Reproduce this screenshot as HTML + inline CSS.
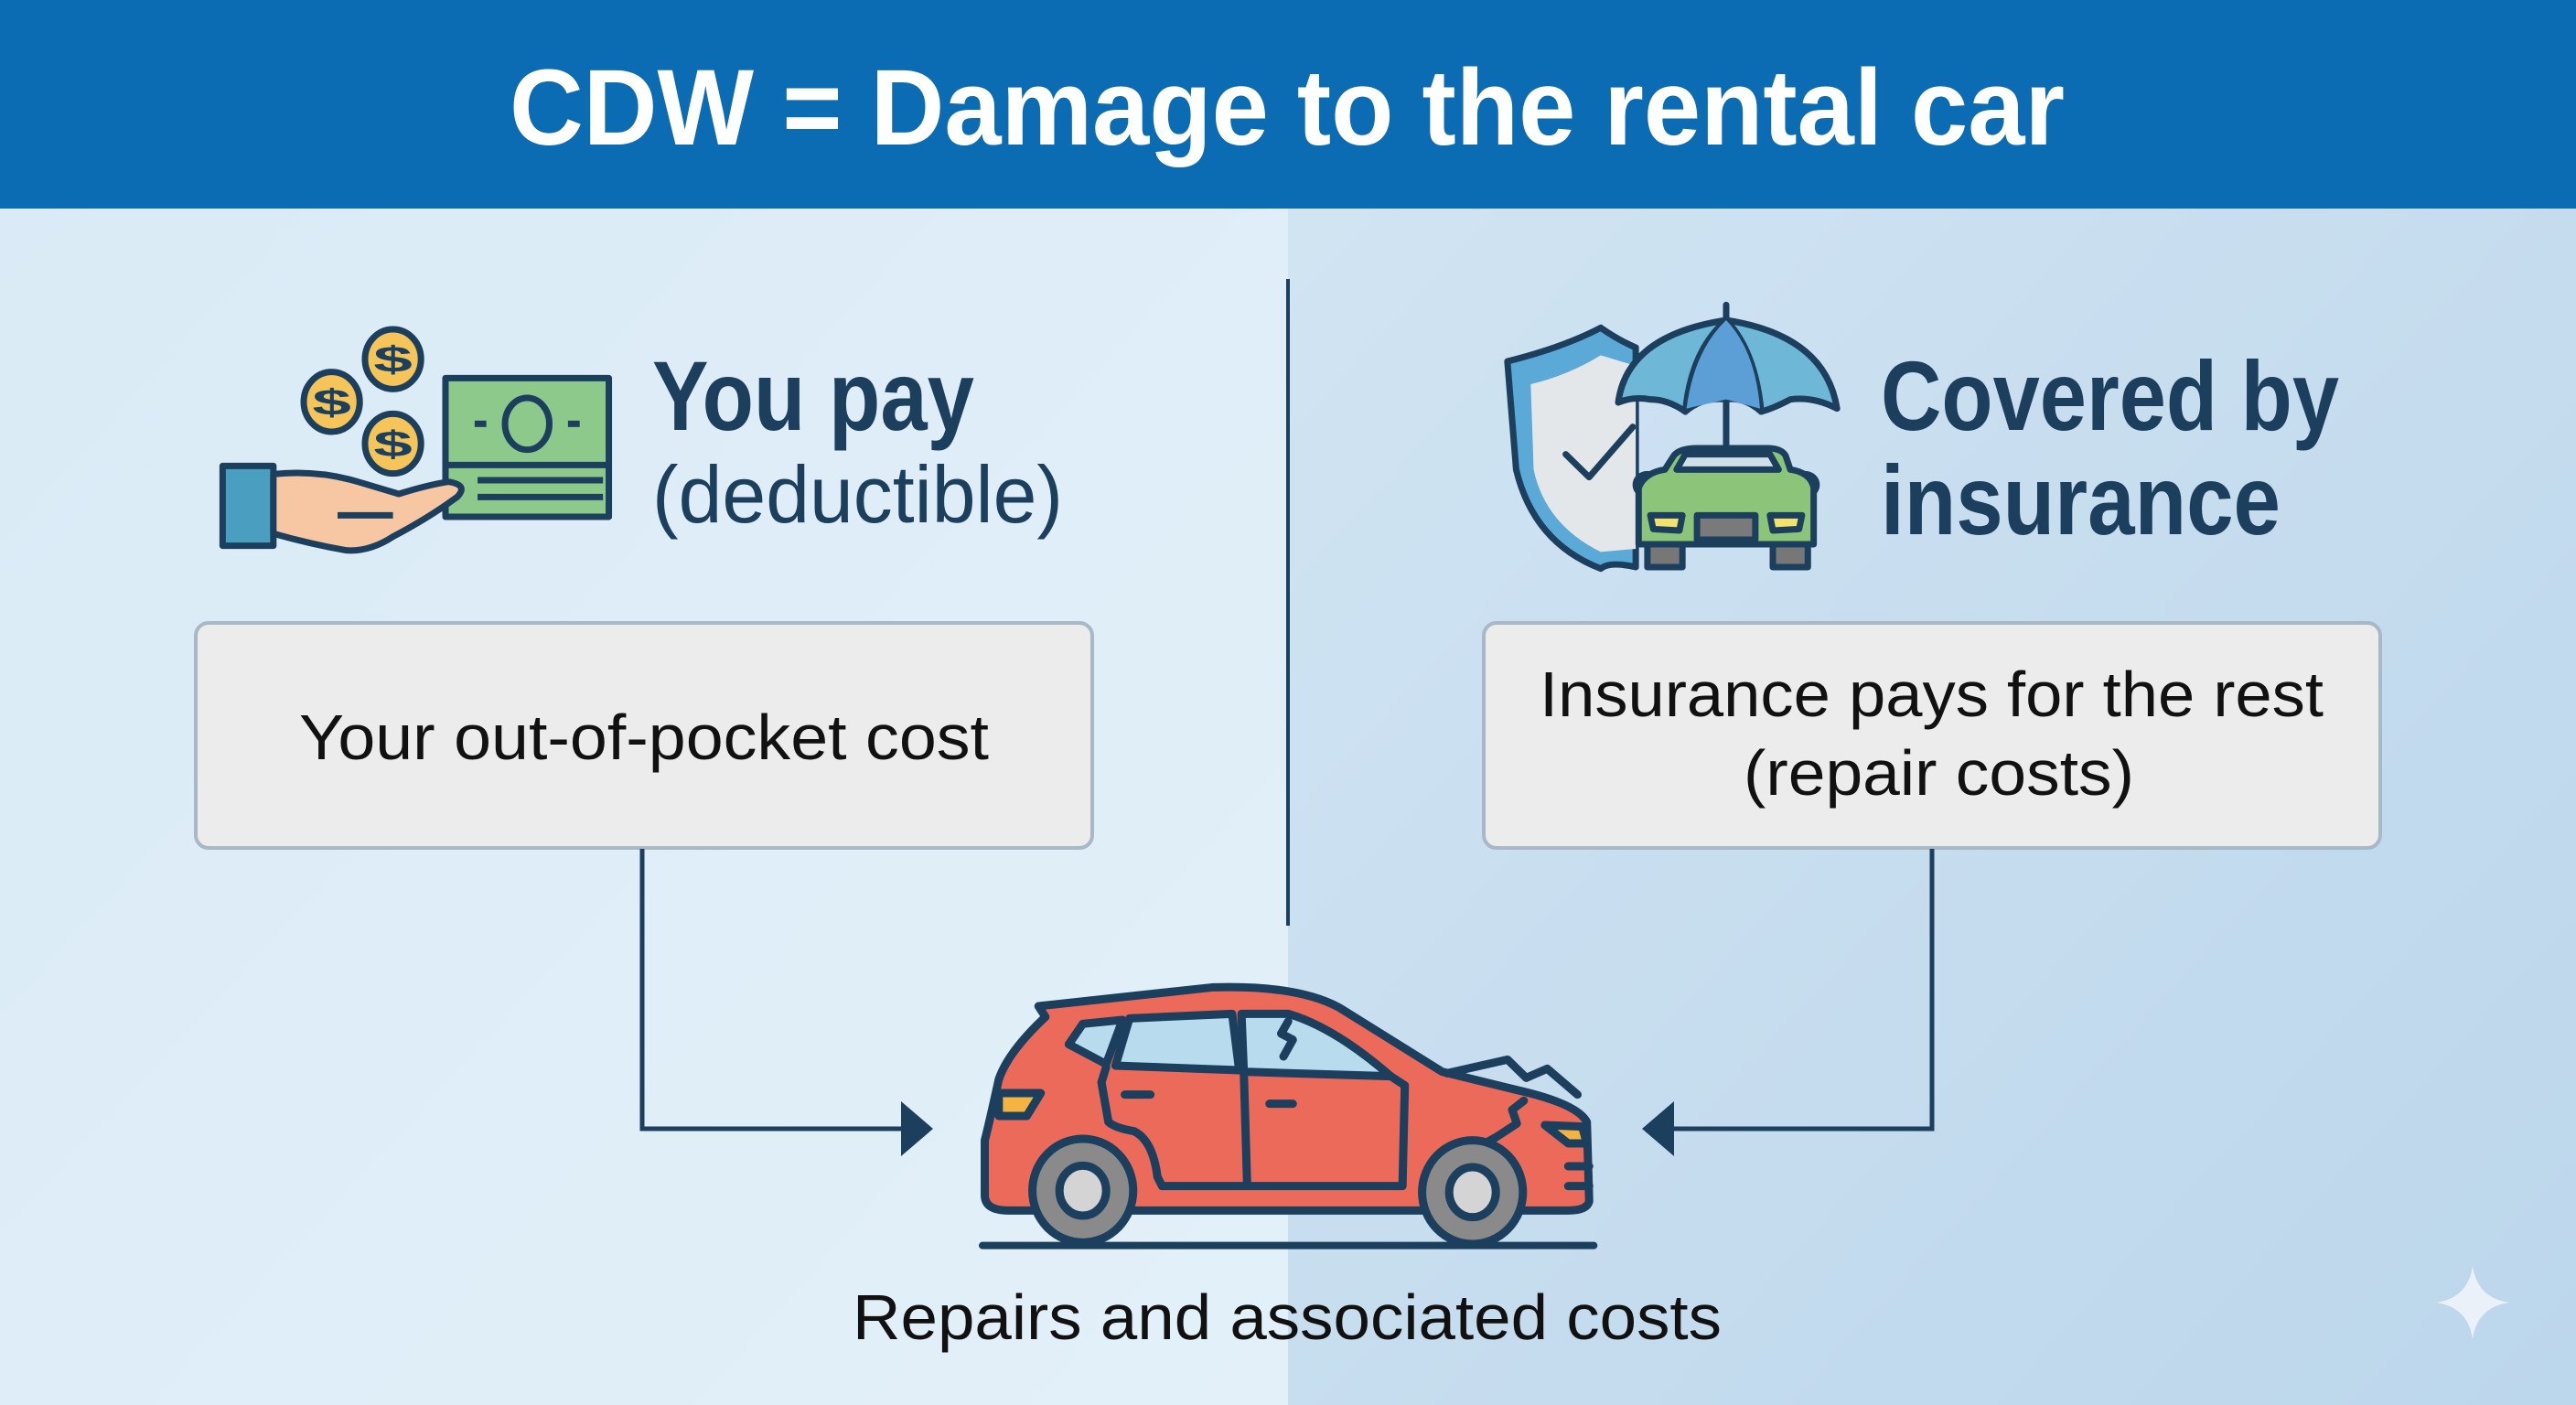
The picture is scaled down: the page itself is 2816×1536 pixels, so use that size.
<!DOCTYPE html>
<html><head><meta charset="utf-8"><style>
html,body{margin:0;padding:0;}
body{width:2816px;height:1536px;overflow:hidden;position:relative;font-family:"Liberation Sans",sans-serif;}
svg{position:absolute;left:0;top:0;}
</style></head><body>
<svg width="2816" height="1536" viewBox="0 0 2816 1536">
<defs>
<linearGradient id="gl" x1="0" y1="0" x2="1" y2="1"><stop offset="0" stop-color="#d9eaf6"/><stop offset="1" stop-color="#e3f0f9"/></linearGradient>
<linearGradient id="gr" x1="0" y1="0" x2="1" y2="1"><stop offset="0" stop-color="#d2e5f3"/><stop offset="1" stop-color="#bcd6eb"/></linearGradient>
</defs>
<rect x="0" y="0" width="1408" height="1536" fill="url(#gl)"/>
<rect x="1408" y="0" width="1408" height="1536" fill="url(#gr)"/>
<rect x="0" y="0" width="2816" height="228" fill="#0b6cb3"/>
<text x="557" y="158" font-size="118" font-weight="bold" fill="#fff" textLength="1700" lengthAdjust="spacingAndGlyphs">CDW = Damage to the rental car</text>

<line x1="1408" y1="305" x2="1408" y2="1012" stroke="#1c3f5e" stroke-width="4"/>

<g fill="#1c3f5e">
<text x="713" y="470" font-size="108" font-weight="bold" textLength="352" lengthAdjust="spacingAndGlyphs">You pay</text>
<text x="713" y="571" font-size="88" textLength="449" lengthAdjust="spacingAndGlyphs">(deductible)</text>
<text x="2056" y="470" font-size="108" font-weight="bold" textLength="501" lengthAdjust="spacingAndGlyphs">Covered by</text>
<text x="2056" y="584" font-size="108" font-weight="bold" textLength="437" lengthAdjust="spacingAndGlyphs">insurance</text>
</g>

<rect x="214" y="681" width="980" height="246" rx="14" fill="#ececec" stroke="#a8b8c6" stroke-width="4"/>
<rect x="1622" y="681" width="980" height="246" rx="14" fill="#ececec" stroke="#a8b8c6" stroke-width="4"/>
<g fill="#111">
<text x="327" y="830" font-size="70" textLength="754" lengthAdjust="spacingAndGlyphs">Your out-of-pocket cost</text>
<text x="1683" y="783" font-size="70" textLength="857" lengthAdjust="spacingAndGlyphs">Insurance pays for the rest</text>
<text x="1906" y="869" font-size="70" textLength="427" lengthAdjust="spacingAndGlyphs">(repair costs)</text>
<text x="932" y="1464" font-size="70" textLength="950" lengthAdjust="spacingAndGlyphs">Repairs and associated costs</text>
</g>

<g stroke="#1c3f5e" stroke-width="5" fill="none">
<polyline points="702,928 702,1234 990,1234"/>
<polyline points="2112,928 2112,1234 1826,1234"/>
</g>
<polygon points="985,1204 1020,1234 985,1264" fill="#1c3f5e"/>
<polygon points="1830,1204 1795,1234 1830,1264" fill="#1c3f5e"/>

<path d="M2703,1384 Q2708,1419 2743,1424 Q2708,1429 2703,1464 Q2698,1429 2663,1424 Q2698,1419 2703,1384Z" fill="#eef4fa" opacity="0.9"/>

<!-- left icon -->
<svg x="200" y="300" width="1000" height="350" viewBox="0 0 1568 1050" preserveAspectRatio="none">
<g stroke="#1c3f5e" stroke-width="7" vector-effect="non-scaling-stroke" stroke-linejoin="round">
<rect x="450" y="340" width="280" height="455" fill="#8dc98a" vector-effect="non-scaling-stroke"/>
<line x1="450" y1="625" x2="730" y2="625" vector-effect="non-scaling-stroke"/>
<ellipse cx="590" cy="490" rx="38" ry="85" fill="none" vector-effect="non-scaling-stroke"/>
<line x1="500" y1="490" x2="520" y2="490" vector-effect="non-scaling-stroke"/>
<line x1="660" y1="490" x2="680" y2="490" vector-effect="non-scaling-stroke"/>
<line x1="505" y1="675" x2="720" y2="675" vector-effect="non-scaling-stroke"/>
<line x1="505" y1="730" x2="720" y2="730" vector-effect="non-scaling-stroke"/>
<ellipse cx="360" cy="278" rx="48" ry="98" fill="#f5c55a" vector-effect="non-scaling-stroke"/>
<ellipse cx="255" cy="418" rx="48" ry="98" fill="#f5c55a" vector-effect="non-scaling-stroke"/>
<ellipse cx="360" cy="555" rx="48" ry="98" fill="#f5c55a" vector-effect="non-scaling-stroke"/>
<rect x="68" y="628" width="87" height="262" fill="#4a9fc0" vector-effect="non-scaling-stroke"/>
<path d="M155,655 Q230,640 300,680 L370,720 Q420,690 455,680 Q490,690 470,730 Q420,800 360,860 Q320,910 280,905 Q220,885 155,850 Z" fill="#f7c6a3" vector-effect="non-scaling-stroke"/>
<line x1="265" y1="790" x2="360" y2="790" vector-effect="non-scaling-stroke"/>
</g>
<g fill="#1c3f5e" font-size="120" font-weight="bold" text-anchor="middle">
<text x="360" y="320">$</text><text x="255" y="460">$</text><text x="360" y="597">$</text>
</g>
</svg>

<!-- right icon -->
<svg x="1600" y="300" width="1000" height="350" viewBox="0 0 1568 1050" preserveAspectRatio="none">
<g stroke="#1c3f5e" stroke-width="7" stroke-linejoin="round" stroke-linecap="round">
<path d="M75,285 Q170,240 235,175 Q265,215 295,240 L295,960 Q250,940 235,965 Q120,880 90,640 Z" fill="#5aa9d6" vector-effect="non-scaling-stroke"/>
<path d="M115,360 Q180,330 235,265 L295,300 L295,900 L235,910 Q140,820 120,640 Z" fill="#e4e7ea" stroke="none"/>
<polyline points="175,590 215,665 290,500" fill="none" vector-effect="non-scaling-stroke"/>
<line x1="450" y1="100" x2="450" y2="565" vector-effect="non-scaling-stroke"/>
<path d="M265,420 Q280,200 450,150 Q620,200 640,440 Q600,400 560,410 Q530,440 510,450 Q480,400 450,410 Q410,400 380,450 Q350,410 320,410 Q290,400 265,420Z" fill="#6fb7d6" vector-effect="non-scaling-stroke"/>
<path d="M450,150 Q390,250 380,450 M450,150 Q500,250 510,450" fill="none" vector-effect="non-scaling-stroke"/>
<path d="M450,150 Q395,250 382,440 L450,410 L508,440 Q500,250 450,150Z" fill="#5b9fd6" stroke="none"/>
<ellipse cx="315" cy="690" rx="20" ry="35" fill="#8cc47a" vector-effect="non-scaling-stroke"/>
<ellipse cx="585" cy="690" rx="20" ry="35" fill="#8cc47a" vector-effect="non-scaling-stroke"/>
<rect x="315" y="870" width="60" height="90" fill="#777" vector-effect="non-scaling-stroke"/>
<rect x="530" y="870" width="60" height="90" fill="#777" vector-effect="non-scaling-stroke"/>
<path d="M300,700 Q310,650 345,640 L360,595 Q370,570 400,570 L520,570 Q545,570 552,595 L560,640 Q595,650 600,700 L600,885 L300,885 Z" fill="#8cc47a" vector-effect="non-scaling-stroke"/>
<path d="M365,640 L380,590 L525,590 L540,640 Z" fill="#cfe0e8" vector-effect="non-scaling-stroke"/>
<path d="M320,790 L375,790 L370,840 L325,835Z" fill="#f0e26a" vector-effect="non-scaling-stroke"/>
<path d="M580,790 L525,790 L530,840 L575,835Z" fill="#f0e26a" vector-effect="non-scaling-stroke"/>
<rect x="400" y="790" width="100" height="80" fill="#7a7a7a" vector-effect="non-scaling-stroke"/>
</g>
</svg>

<!-- car -->
<svg x="1000" y="1040" width="800" height="340" viewBox="0 0 1568 1020" preserveAspectRatio="none">
<g stroke="#1c3f5e" stroke-width="9" stroke-linejoin="round" stroke-linecap="round">
<path d="M265,180 L640,118 Q820,110 910,185 L1130,395 L1290,455 Q1420,500 1440,560 L1445,820 Q1440,850 1400,850 L200,850 Q150,850 150,800 L150,620 Q160,560 180,420 Q200,330 280,215 Z" fill="#ec6a5a" vector-effect="non-scaling-stroke"/>
<path d="M330,305 L360,238 L445,225 L410,370 Z" fill="#b9dbee" vector-effect="non-scaling-stroke"/>
<path d="M460,220 L680,205 L695,390 L430,375 Z" fill="#b9dbee" vector-effect="non-scaling-stroke"/>
<path d="M700,205 L800,205 Q900,250 1020,410 L705,395 Z" fill="#b9dbee" vector-effect="non-scaling-stroke"/>
<path d="M410,380 L400,430 L415,560 Q430,580 470,590 Q510,620 520,740 L530,770 L1045,770 L1050,440 L1020,410" fill="none" vector-effect="non-scaling-stroke"/>
<line x1="705" y1="395" x2="712" y2="760" vector-effect="non-scaling-stroke"/>
<line x1="450" y1="470" x2="505" y2="470" vector-effect="non-scaling-stroke"/>
<line x1="760" y1="500" x2="810" y2="500" vector-effect="non-scaling-stroke"/>
<path d="M180,465 L270,465 L240,540 L180,540 Z" fill="#f5b342" vector-effect="non-scaling-stroke"/>
<path d="M1350,570 L1430,575 L1440,630 L1400,630 Z" fill="#f5b342" vector-effect="non-scaling-stroke"/>
<polyline points="1140,400 1270,355 1310,415 1355,385 1420,470" fill="none" vector-effect="non-scaling-stroke"/>
<polyline points="800,230 785,270 810,290 790,345" fill="none" vector-effect="non-scaling-stroke"/>
<polyline points="1305,490 1280,520 1290,565 1245,610 1210,640" fill="none" vector-effect="non-scaling-stroke"/>
<line x1="1400" y1="705" x2="1445" y2="705" vector-effect="non-scaling-stroke"/>
<line x1="1400" y1="770" x2="1445" y2="770" vector-effect="non-scaling-stroke"/>
<ellipse cx="360" cy="785" rx="108" ry="170" fill="#8a8a8a" vector-effect="non-scaling-stroke"/>
<ellipse cx="360" cy="785" rx="50" ry="82" fill="#d4d4d4" vector-effect="non-scaling-stroke"/>
<ellipse cx="1195" cy="790" rx="108" ry="170" fill="#8a8a8a" vector-effect="non-scaling-stroke"/>
<ellipse cx="1195" cy="790" rx="50" ry="82" fill="#d4d4d4" vector-effect="non-scaling-stroke"/>
<line x1="145" y1="965" x2="1455" y2="965" stroke-width="8" vector-effect="non-scaling-stroke"/>
</g>
</svg>
</svg>
</body></html>
